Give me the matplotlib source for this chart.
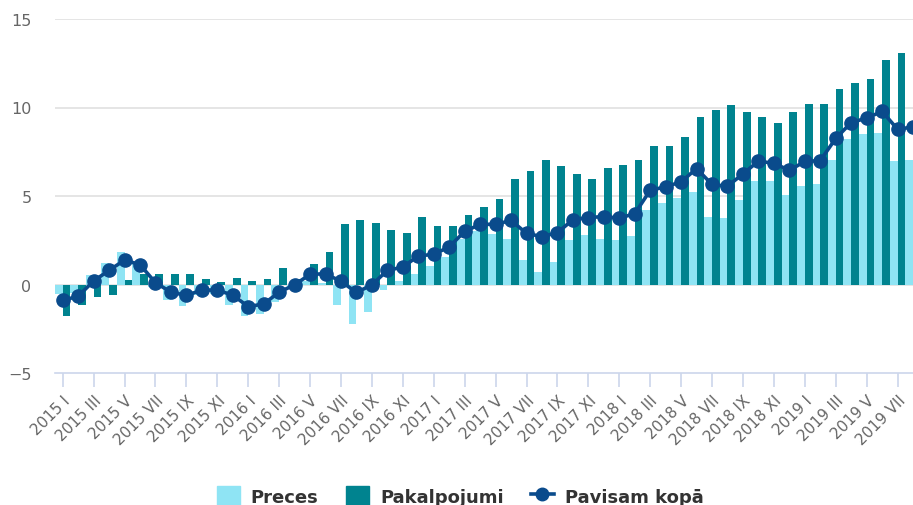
import matplotlib
matplotlib.use("Agg")
import matplotlib.pyplot as plt
from matplotlib.lines import Line2D
from matplotlib.patches import Patch
import numpy as np

plt.rcParams['font.family'] = ['DejaVu Sans']

romans = ["I", "II", "III", "IV", "V", "VI", "VII", "VIII", "IX", "X", "XI", "XII"]
categories = [f"{y} {m}" for y in range(2015, 2020) for m in romans][:56]

preces = [-0.55, -0.48, 0.56, 1.2, 1.83, 1.26, -0.12, -0.88, -1.24, -0.57,
          -0.54, -1.17, -1.78, -1.68, -0.98, -0.13, 0.2, 0.1, -1.17, -2.25,
          -1.55, -0.3, 0.2, 0.6, 1.04, 1.58, 2.55, 3.0, 2.84, 2.55,
          1.4, 0.73, 1.26, 2.5, 2.82, 2.57, 2.5, 2.75, 4.2, 4.59,
          4.87, 5.2, 3.83, 3.73, 4.78, 5.86, 5.86, 5.06, 5.57, 5.67,
          7.02, 8.23, 8.52, 8.58, 6.96, 7.05]

pakalpojumi = [-1.8, -1.17, -0.7, -0.58, 0.27, 0.6, 0.57, 0.57, 0.57, 0.3,
               0.15, 0.37, 0.18, 0.31, 0.92, 0.3, 1.18, 1.83, 3.39, 3.67,
               3.49, 3.1, 2.93, 3.83, 3.3, 3.3, 3.92, 4.4, 4.83, 5.95,
               6.39, 7.02, 6.68, 6.24, 5.95, 6.58, 6.77, 7.02, 7.85, 7.85,
               8.33, 9.49, 9.87, 10.13, 9.75, 9.49, 9.13, 9.75, 10.21, 10.21,
               11.04, 11.4, 11.6, 12.7, 13.06, 13.2]

kopa = [-0.9, -0.66, 0.2, 0.8, 1.38, 1.12, 0.1, -0.43, -0.62, -0.31,
        -0.32, -0.6, -1.25, -1.1, -0.43, -0.02, 0.58, 0.6, 0.18, -0.45,
        -0.02, 0.8, 0.98, 1.62, 1.7, 2.13, 3.0, 3.4, 3.4, 3.62,
        2.89, 2.7, 2.93, 3.66, 3.78, 3.84, 3.75, 4.0, 5.32, 5.52,
        5.8, 6.55, 5.65, 5.55, 6.25, 6.97, 6.85, 6.45, 6.95, 7.0,
        8.25, 9.15, 9.4, 9.78, 8.77, 8.9]

yticks = [-5, 0, 5, 10, 15]

c_light = "#8fe4f4"
c_dark = "#00838f"
c_line = "#0a4b8c"

fig = plt.figure(figsize=(9.13, 5.06), dpi=100)
ax = fig.add_axes([55/913, (506-374)/506, (913-55)/913, (374-20)/506])

x = np.arange(len(categories))
w = 0.5
ax.bar(x - w/2, preces, width=w, color=c_light, zorder=2, linewidth=0)
ax.bar(x + w/2, pakalpojumi, width=w, color=c_dark, zorder=2, linewidth=0)
ax.plot(x, kopa, color=c_line, linewidth=2.6, marker="o", markersize=9.5, zorder=3,
        clip_on=True)

ax.set_xlim(-0.5, len(categories) - 1)
ax.set_ylim(-5, 15)
ax.set_yticks(yticks)
ax.set_yticklabels([str(v).replace("-", "\u2212") for v in yticks])
for v in yticks[1:]:
    ax.axhline(v, color="#e0e0e0", linewidth=1.2, zorder=1)

ax.set_xticks(x[::2])
ax.set_xticklabels(categories[::2], rotation=45, ha="right", rotation_mode="anchor")
for s in ["top", "right", "left"]:
    ax.spines[s].set_visible(False)
ax.spines["bottom"].set_color("#ccd6eb")
ax.spines["bottom"].set_linewidth(1.2)
ax.tick_params(axis="x", length=10, color="#ccd6eb", width=1.2, labelsize=11,
               labelcolor="#666666", pad=4)
ax.tick_params(axis="y", length=0, labelsize=11.5, labelcolor="#666666", pad=17)

handles = [Patch(color=c_light, label="Preces"),
           Patch(color=c_dark, label="Pakalpojumi"),
           Line2D([0], [0], color=c_line, linewidth=2.6, marker="o", markersize=9,
                  label="Pavisam kopā")]
leg = fig.legend(handles=handles, loc="center", bbox_to_anchor=(0.504, 0.018), ncol=3,
                 frameon=False, prop={"weight": "bold", "size": 13},
                 handlelength=1.3, handleheight=1.2, columnspacing=1.5, handletextpad=0.6)
for t in leg.get_texts():
    t.set_color("#333333")

fig.savefig("out.png", dpi=100)
